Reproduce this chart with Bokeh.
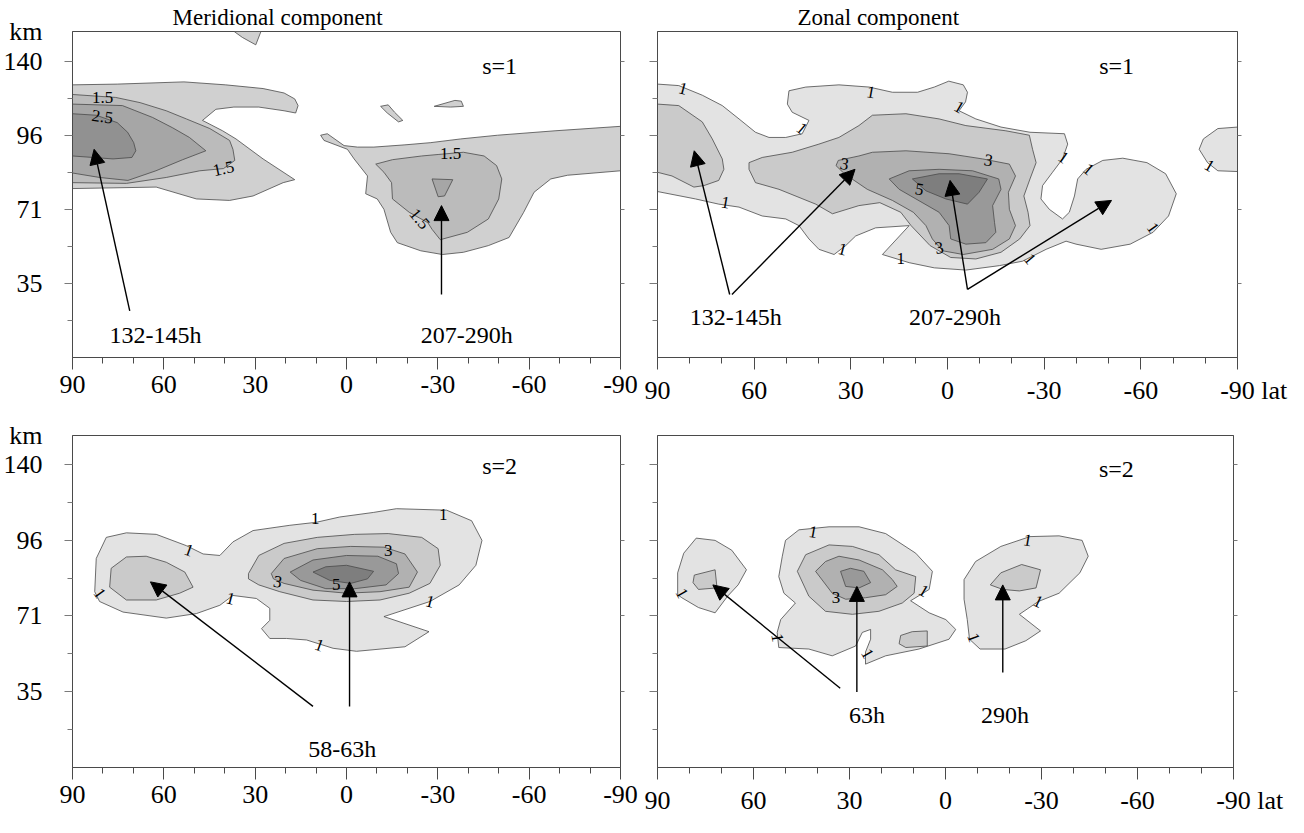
from bokeh.plotting import figure
from bokeh.models import Range1d, FixedTicker, LinearAxis, Arrow, NormalHead, ColumnDataSource
from bokeh.layouts import column, row
from bokeh.embed import file_html
from bokeh.resources import INLINE
from bokeh.core.properties import value

FONT = "'Liberation Serif', 'Times New Roman', serif"
NB = "\u00a0"

# ---------------- axes ----------------
LAT_TICKS = [90, 60, 30, 0, -30, -60, -90]
LAT_MINOR = [80, 70, 50, 40, 20, 10, -10, -20, -40, -50, -70, -80]
LAT_LABELS = ["90", "60", "30", "0", "-30", "-60", "-90"]
LEVEL_TICKS = [1, 2, 3, 4]
LEVEL_MINOR = [0.5, 1.5, 2.5, 3.5]
KM_LABELS = ["35", "71", "96", "140"]
KM_UNIT = "km"
LAT_UNIT = "lat"

# ---------------- Meridional component, s=1 (top left) ----------------
TL_A1_LAT = [90, 75.3, 53.4, 39.7, 27.4, 20.5, 17.0, 15.9, 16.7, 20.5, 28.8, 37.0, 42.9, 47.3, 40.7, 36.3, 27.4, 17.0, 20.8, 30.7, 38.4, 49.3, 62.5, 90]
TL_A1_Y = [3.68, 3.69, 3.72, 3.68, 3.63, 3.57, 3.49, 3.40, 3.30, 3.33, 3.38, 3.38, 3.35, 3.20, 3.06, 2.95, 2.68, 2.40, 2.36, 2.18, 2.12, 2.14, 2.30, 2.28]
TL_A15_LAT = [90, 75.8, 67.8, 59.2, 52.6, 44.9, 38.4, 37.3, 36.7, 40.4, 48.2, 59.2, 72.3, 90]
TL_A15_Y = [3.55, 3.51, 3.44, 3.33, 3.22, 3.09, 2.93, 2.81, 2.66, 2.55, 2.52, 2.43, 2.35, 2.36]
TL_A2_LAT = [90, 73.6, 63.7, 57.1, 51.6, 46.2, 53.8, 62.6, 71.8, 81.1, 90]
TL_A2_Y = [3.42, 3.40, 3.24, 3.10, 2.97, 2.79, 2.67, 2.52, 2.39, 2.43, 2.49]
TL_A25_LAT = [90, 82.2, 75.3, 71.9, 69.9, 69.2, 70.5, 76.7, 90]
TL_A25_Y = [3.29, 3.27, 3.17, 3.04, 2.90, 2.79, 2.70, 2.68, 2.72]
TL_B1_LAT = [8.5, 6.3, 0.8, -3.6, -9.0, -19.2, -27.7, -37.5, -49.6, -68.5, -90, -90, -72.6, -67.1, -61.6, -58.2, -53.4, -46.6, -38.4, -31.5, -24.4, -16.7, -14.5, -12.3, -10.1, -6.3, -6.9, -2.5, -0.3, 7.4]
TL_B1_Y = [3.00, 3.02, 2.86, 2.84, 2.84, 2.87, 2.90, 2.95, 3.00, 3.06, 3.12, 2.52, 2.46, 2.41, 2.23, 1.96, 1.62, 1.51, 1.42, 1.39, 1.44, 1.55, 1.69, 2.00, 2.14, 2.21, 2.45, 2.68, 2.81, 2.93]
TL_B15_LAT = [-9.6, -15.1, -24.7, -30.1, -38.4, -45.2, -49.3, -51.0, -50.0, -46.6, -39.7, -30.8, -28.1, -26.7, -20.6, -15.1, -14.8, -12.3]
TL_B15_Y = [2.61, 2.67, 2.72, 2.74, 2.77, 2.72, 2.59, 2.41, 2.14, 1.87, 1.69, 1.59, 1.73, 1.82, 1.96, 2.14, 2.36, 2.50]
TL_B2_LAT = [-28.1, -34.9, -32.2, -30.1]
TL_B2_Y = [2.41, 2.40, 2.18, 2.17]
TL_C1_LAT = [-11.2, -13.7, -15.8, -18.5, -17.1, -13.4]
TL_C1_Y = [3.39, 3.41, 3.31, 3.20, 3.18, 3.30]
TL_D1_LAT = [-28.8, -35.6, -37.7, -38.4, -34.2]
TL_D1_Y = [3.39, 3.47, 3.46, 3.39, 3.38]
TL_E1_LAT = [36.9, 28.1, 29.8, 34.2]
TL_E1_Y = [4.40, 4.40, 4.22, 4.32]
TL_LBL_LAT = [80.1, 80.2, 40.4, -34.2, -24.0]
TL_LBL_Y = [3.51, 3.25, 2.55, 2.76, 1.87]
TL_LBL_TEXT = ["1.5", "2.5", "1.5", "1.5", "1.5"]
TL_LBL_ANGLE = [0, -8, 12, 0, -50]

# ---------------- Zonal component, s=1 (top right) ----------------
TR_A1_LAT = [90, 83.4, 76.1, 69.9, 64.7, 59.6, 55.4, 50.2, 45.1, 43.0, 48.2, 49.7, 49.2, 44.0, 33.7, 24.3, 17.1, 9.3, 4.1, -0.4,
             -4.9, -6.2, -5.6, -3.6, -8.8, -16.6, -25.6, -36.3, -37.3, -35.7, -32.6, -29.5, -29.0, -31.6, -35.7, -37.8, -39.4, -40.4, -43.0, -48.2,
             -54.4, -61.9, -67.7, -71.0, -68.6, -63.8, -56.7, -47.7, -39.9, -36.8, -30.6, -23.3, -16.1, -5.7, 4.1, 11.9, 20.2, 11.9, 22.3, 28.5,
             31.6, 35.2, 39.9, 43.0, 46.1, 50.2, 57.5, 64.7, 71.0, 78.2, 90]
TR_A1_Y = [3.69, 3.67, 3.54, 3.40, 3.22, 3.04, 2.97, 2.97, 3.02, 3.20, 3.31, 3.42, 3.60, 3.65, 3.68, 3.65, 3.58, 3.58, 3.65, 3.73,
           3.68, 3.58, 3.45, 3.33, 3.22, 3.11, 3.04, 3.02, 2.88, 2.68, 2.50, 2.32, 2.14, 2.00, 1.87, 1.96, 2.18, 2.41, 2.54, 2.66,
           2.69, 2.63, 2.48, 2.21, 1.91, 1.69, 1.53, 1.46, 1.53, 1.57, 1.46, 1.30, 1.24, 1.18, 1.21, 1.28, 1.39, 1.78, 1.75, 1.64,
           1.51, 1.39, 1.46, 1.60, 1.78, 1.87, 1.91, 2.03, 2.07, 2.14, 2.24]
TR_A2L_LAT = [90, 83.4, 76.1, 73.0, 69.9, 69.4, 71.0, 75.6, 78.7, 85.5, 90]
TR_A2L_Y = [3.42, 3.40, 3.18, 2.95, 2.68, 2.54, 2.39, 2.32, 2.30, 2.45, 2.50]
TR_B1_LAT = [-90, -83.9, -79.4, -78.1, -80.7, -83.9, -90]
TR_B1_Y = [3.11, 3.09, 2.95, 2.81, 2.63, 2.52, 2.51]
TR_A2_LAT = [61.6, 59.6, 52.3, 40.9, 35.7, 27.5, 21.0, 14.5, 11.3, 5.4, -1.0, -8.8, -16.6, -22.4, -25.6, -25.0, -23.7, -25.6, -27.5, -26.4,
             -25.4, -18.1, -5.7, 2.6, 12.9, 23.3, 27.5, 33.7, 39.9, 48.2, 57.5, 61.6]
TR_A2_Y = [2.54, 2.36, 2.27, 2.07, 1.94, 2.05, 2.09, 1.96, 1.78, 1.51, 1.35, 1.33, 1.42, 1.60, 1.78, 1.96, 2.18, 2.41, 2.63, 2.81,
           3.00, 3.06, 3.13, 3.22, 3.29, 3.27, 3.13, 2.97, 2.88, 2.77, 2.70, 2.63]
TR_A3_LAT = [33.9, 27.5, 23.3, 12.9, -0.5, -10.9, -19.2, -21.1, -18.9, -19.2, -21.1, -19.2, -14.0, -4.9, 1.5, 4.7, 6.7, 10.6, 17.1, 24.9, 32.0, 34.6]
TR_A3_Y = [2.66, 2.72, 2.77, 2.79, 2.75, 2.68, 2.61, 2.45, 2.23, 2.00, 1.78, 1.60, 1.46, 1.39, 1.44, 1.60, 1.78, 1.96, 2.12, 2.27, 2.48, 2.59]
TR_A4_LAT = [18.1, 11.9, 2.6, -7.8, -15.9, -16.6, -14.0, -14.6, -15.0, -11.9, -5.7, -1.0, -0.5, 2.6, 9.8, 15.0]
TR_A4_Y = [2.41, 2.52, 2.54, 2.52, 2.41, 2.27, 2.05, 1.82, 1.69, 1.55, 1.53, 1.60, 1.78, 1.96, 2.14, 2.27]
TR_A5_LAT = [10.9, 2.6, -3.6, -12.4, -9.8, -6.2, 0.5, 6.7]
TR_A5_Y = [2.41, 2.48, 2.48, 2.41, 2.23, 2.07, 2.14, 2.25]
TR_LBL_LAT = [82.1, 23.8, -3.6, 45.2, 68.9, 32.6, 14.5, -36.0, -43.8, -63.8, -25.6, -81.3, 32.0, -12.7, 8.7, 2.6]
TR_LBL_Y = [3.63, 3.58, 3.38, 3.09, 2.09, 1.46, 1.33, 2.70, 2.54, 1.75, 1.33, 2.59, 2.61, 2.66, 2.27, 1.48]
TR_LBL_TEXT = ["1", "1", "1", "1", "1", "1", "1", "1", "1", "1", "1", "1", "3", "3", "5", "3"]
TR_LBL_ANGLE = [-15, -10, -30, -40, -10, -15, 0, -35, -40, -55, -50, -30, -10, -10, -10, 10]

# ---------------- Meridional component, s=2 (bottom left) ----------------
BL_A1_LAT = [82.7, 82.2, 78.9, 72.3, 62.5, 52.6, 47.1, 41.6, 37.3, 30.7, 18.6, 9.9, 2.2, -8.8, -16.4, -32.9, -41.1, -44.5, -42.5, -37.0,
             -27.4, -12.3, -27.1, -19.2, -3.3, 4.4, 13.1, 19.7, 25.2, 27.9, 25.2, 25.2, 29.6, 37.3, 41.6, 49.3, 59.2, 73.4, 81.1]
BL_A1_Y = [2.32, 2.76, 3.04, 3.10, 3.08, 2.93, 2.82, 2.80, 2.98, 3.13, 3.20, 3.24, 3.31, 3.37, 3.42, 3.40, 3.26, 3.00, 2.67, 2.41,
           2.19, 1.99, 1.79, 1.59, 1.53, 1.57, 1.68, 1.70, 1.70, 1.83, 1.94, 2.10, 2.23, 2.27, 2.14, 2.03, 1.97, 2.05, 2.19]
BL_A2L_LAT = [77.3, 72.3, 65.8, 59.2, 53.1, 50.4, 54.8, 62.5, 72.3, 77.8]
BL_A2L_Y = [2.63, 2.78, 2.79, 2.71, 2.58, 2.38, 2.30, 2.21, 2.21, 2.38]
BL_A2_LAT = [32.2, 28.8, 20.5, 9.6, -2.7, -13.7, -24.7, -30.1, -30.8, -27.4, -20.6, -11.0, 0.0, 11.0, 21.9, 28.8, 32.2]
BL_A2_Y = [2.56, 2.80, 2.96, 3.04, 3.08, 3.09, 3.04, 2.89, 2.67, 2.43, 2.30, 2.21, 2.19, 2.21, 2.32, 2.41, 2.49]
BL_A3_LAT = [24.7, 20.5, 9.6, -1.4, -12.3, -19.2, -23.3, -20.6, -11.0, 0.0, 11.0, 20.5, 24.0]
BL_A3_Y = [2.56, 2.76, 2.89, 2.92, 2.91, 2.82, 2.58, 2.38, 2.32, 2.30, 2.34, 2.43, 2.49]
BL_A4_LAT = [18.5, 11.0, 0.0, -10.3, -16.4, -17.1, -13.0, -2.7, 6.8, 15.1]
BL_A4_Y = [2.58, 2.74, 2.80, 2.79, 2.69, 2.56, 2.41, 2.36, 2.36, 2.47]
BL_A5_LAT = [11.0, 6.8, 0.0, -8.9, -6.9, -1.4, 5.5]
BL_A5_Y = [2.58, 2.65, 2.67, 2.59, 2.49, 2.43, 2.47]
BL_LBL_LAT = [10.3, -31.8, 51.8, 81.1, 38.1, -27.4, 8.9, 22.6, -13.7, 3.4]
BL_LBL_Y = [3.29, 3.34, 2.87, 2.30, 2.23, 2.19, 1.61, 2.45, 2.87, 2.41]
BL_LBL_TEXT = ["1", "1", "1", "1", "1", "1", "1", "3", "3", "5"]
BL_LBL_ANGLE = [0, 0, -20, -55, -15, -15, -20, -10, 0, 0]

# ---------------- Zonal component, s=2 (bottom right) ----------------
BR_A1_LAT = [83.7, 81.8, 77.9, 72.0, 66.8, 62.2, 64.8, 68.1, 72.0, 77.2, 82.4, 83.7]
BR_A1_Y = [2.57, 2.83, 3.03, 3.00, 2.87, 2.61, 2.41, 2.26, 2.04, 2.11, 2.24, 2.28]
BR_A2_LAT = [78.5, 72.0, 71.4, 77.2, 78.9]
BR_A2_Y = [2.54, 2.61, 2.37, 2.35, 2.44]
BR_B1_LAT = [50.0, 45.8, 36.4, 27.0, 18.7, 9.3, 4.1, 5.1, 10.9, 5.1, -0.1, -3.2, -1.1, 8.3, 18.7, 25.0, 25.0, 23.4, 23.4, 26.0,
             28.1, 35.4, 42.7, 52.1, 52.6, 51.5, 46.9, 50.5, 52.1, 51.0]
BR_B1_Y = [3.00, 3.14, 3.18, 3.18, 3.09, 2.83, 2.59, 2.35, 2.20, 2.04, 1.95, 1.82, 1.69, 1.56, 1.47, 1.36, 1.52, 1.69, 1.82, 1.78,
           1.60, 1.47, 1.56, 1.58, 1.78, 1.95, 2.17, 2.30, 2.52, 2.79]
BR_B2_LAT = [46.3, 43.7, 36.4, 29.1, 20.8, 15.6, 9.3, 9.8, 13.5, 20.8, 29.1, 37.5, 42.7]
BR_B2_Y = [2.59, 2.81, 2.94, 2.92, 2.81, 2.61, 2.52, 2.30, 2.17, 2.06, 2.02, 2.06, 2.26]
BR_B3_LAT = [40.6, 37.5, 33.3, 27.0, 19.7, 16.6, 15.1, 18.7, 25.0, 31.2, 35.4]
BR_B3_Y = [2.59, 2.72, 2.79, 2.74, 2.61, 2.48, 2.39, 2.28, 2.24, 2.22, 2.30]
BR_B4_LAT = [32.8, 29.7, 25.5, 23.4, 27.0, 31.2]
BR_B4_Y = [2.59, 2.63, 2.59, 2.44, 2.37, 2.39]
BR_B5_LAT = [14.0, 10.4, 5.7, 5.7, 12.4, 14.5]
BR_B5_Y = [1.74, 1.79, 1.80, 1.60, 1.58, 1.63]
BR_C1_LAT = [-5.8, -9.4, -17.3, -26.4, -35.5, -42.7, -44.6, -42.0, -35.5, -29.0, -23.1, -29.7, -25.1, -18.6, -10.8, -7.5, -6.8, -5.8]
BR_C1_Y = [2.48, 2.72, 2.92, 3.05, 3.06, 3.00, 2.79, 2.57, 2.30, 2.19, 2.02, 1.80, 1.67, 1.56, 1.56, 1.69, 1.95, 2.22]
BR_C2_LAT = [-14.0, -17.3, -23.8, -29.7, -28.3, -23.1, -17.9]
BR_C2_Y = [2.41, 2.57, 2.68, 2.61, 2.37, 2.33, 2.35]
BR_LBL_LAT = [41.4, -25.7, 82.4, 52.5, 6.8, -29.0, 24.4, -8.8, 34.2]
BR_LBL_Y = [3.11, 3.00, 2.30, 1.71, 2.33, 2.19, 1.50, 1.71, 2.24]
BR_LBL_TEXT = ["1", "1", "1", "1", "1", "1", "1", "1", "3"]
BR_LBL_ANGLE = [-10, -10, -60, -80, -30, -25, -60, -70, 0]

# ---------------- annotations (arrows: start lat, start level, end lat, end level) ----------------
TL_ARROWS = [(71.2, 0.63, 82.9, 2.81), (-31.2, 0.85, -31.2, 2.05)]
TR_ARROWS = [(67.6, 0.85, 78.6, 2.79), (66.9, 0.85, 28.7, 2.54), (-6.2, 0.92, -0.8, 2.39), (-6.2, 0.92, -50.9, 2.12)]
BL_ARROWS = [(11.0, 0.80, 64.4, 2.45), (-1.0, 0.80, -1.0, 2.45)]
BR_ARROWS = [(32.9, 1.04, 72.7, 2.41), (27.7, 0.99, 27.7, 2.39), (-17.9, 1.25, -17.9, 2.41)]
TL_NOTES = [("132-145h", 62.7, 0.31), ("207-290h", -39.5, 0.31), ("s=1", -50.3, 3.94)]
TR_NOTES = [("132-145h", 65.7, 0.54), ("207-290h", -2.3, 0.54), ("s=1", -52.5, 3.94)]
BL_NOTES = [("58-63h", 1.4, 0.23), ("s=2", -50.3, 3.99)]
BR_NOTES = [("63h", 24.5, 0.69), ("290h", -18.6, 0.69), ("s=2", -53.4, 3.94)]

PAL5 = ["#e3e3e3", "#cacaca", "#b1b1b1", "#999999", "#7e7e7e"]
PAL_TL = ["#d0d0d0", "#bbbbbb", "#a6a6a6", "#919191"]

FRAME_C = "#4a4a4a"
TICK_C = "#7a7a7a"


def make_panel(fw, fh, y0, y1, left, right, top, bottom, ylabels, xstand, title=None, title_offset=0, unit_right=False):
    p = figure(width=left + fw + right, height=top + fh + bottom,
               x_range=Range1d(90, -90), y_range=Range1d(y0, y1),
               output_backend="svg", toolbar_location=None,
               min_border_left=left, min_border_right=right,
               min_border_top=top, min_border_bottom=bottom)
    p.xgrid.grid_line_color = None
    p.ygrid.grid_line_color = None
    p.outline_line_color = FRAME_C
    p.background_fill_color = "white"
    p.border_fill_color = "white"
    if title:
        p.title.text = title
        p.title.align = "left"
        p.title.offset = title_offset
        p.title.text_font = FONT
        p.title.text_font_size = "23px"
        p.title.text_font_style = "normal"
        p.title.text_color = "black"
        p.title.standoff = 3
    # bottom axis
    xa = p.xaxis[0]
    xa.ticker = FixedTicker(ticks=LAT_TICKS, minor_ticks=LAT_MINOR)
    labels = dict(zip(LAT_TICKS, LAT_LABELS))
    if unit_right:
        labels[-90] = NB * 5 + "-90" + NB + LAT_UNIT
    xa.major_label_overrides = labels
    xa.major_tick_out = 12
    xa.major_tick_in = 0
    xa.minor_tick_out = 6
    xa.minor_tick_in = 0
    xa.major_label_standoff = xstand
    xa.major_label_text_font = FONT
    xa.major_label_text_font_size = "26px"
    xa.major_label_text_color = "black"
    xa.axis_line_color = FRAME_C
    xa.major_tick_line_color = FRAME_C
    xa.minor_tick_line_color = FRAME_C
    # left axis: tick marks only (next to the frame)
    ya = p.yaxis[0]
    ya.ticker = FixedTicker(ticks=LEVEL_TICKS, minor_ticks=LEVEL_MINOR)
    ya.major_tick_out = 8
    ya.major_tick_in = 0
    ya.minor_tick_out = 5
    ya.minor_tick_in = 0
    ya.axis_line_color = FRAME_C
    ya.major_tick_line_color = TICK_C
    ya.minor_tick_line_color = TICK_C
    ya.major_label_overrides = {t: "" for t in LEVEL_TICKS}
    ya.major_label_standoff = 0
    ya.major_label_text_font_size = "1px"
    if ylabels:
        top_tick = round(y1 - 0.001, 3)
        lab = {t: s for t, s in zip(LEVEL_TICKS, KM_LABELS)}
        lab[top_tick] = KM_UNIT
        la = LinearAxis(ticker=FixedTicker(ticks=LEVEL_TICKS + [top_tick], minor_ticks=[]),
                        major_label_overrides=lab, major_tick_out=0, major_tick_in=0,
                        minor_tick_out=0, minor_tick_in=0, major_label_standoff=22,
                        axis_line_color=None, major_tick_line_color=None, minor_tick_line_color=None,
                        major_label_text_font=FONT, major_label_text_font_size="26px",
                        major_label_text_color="black")
        p.add_layout(la, "left")
    ra = LinearAxis(ticker=FixedTicker(ticks=LEVEL_TICKS, minor_ticks=[]),
                    major_label_overrides={t: "" for t in LEVEL_TICKS},
                    major_tick_out=4, major_tick_in=0, minor_tick_out=0, minor_tick_in=0,
                    major_label_standoff=0, major_label_text_font_size="1px",
                    axis_line_color=FRAME_C, major_tick_line_color=TICK_C)
    p.add_layout(ra, "right")
    return p


def add_patches(p, polys, colors):
    src = ColumnDataSource(dict(xs=[a for a, b, c in polys], ys=[b for a, b, c in polys],
                                fc=[colors[c] for a, b, c in polys]))
    p.patches("xs", "ys", source=src, fill_color="fc", line_color="#4a4a4a", line_width=0.8)


def add_labels(p, lat, lev, text, ang, size="17px"):
    src = ColumnDataSource(dict(x=lat, y=lev, t=text, a=ang))
    p.text("x", "y", text="t", angle="a", angle_units="deg", source=src, text_font=value(FONT),
           text_font_size=size, text_align="center", text_baseline="middle", text_color="black")


def add_arrows(p, arrows):
    for xs, ys, xe, ye in arrows:
        p.add_layout(Arrow(end=NormalHead(size=15, fill_color="black", line_color="black", line_width=1),
                           x_start=xs, y_start=ys, x_end=xe, y_end=ye, line_width=1.4, line_color="black"))


def add_notes(p, notes, size="24px"):
    add_labels(p, [n[1] for n in notes], [n[2] for n in notes], [n[0] for n in notes], [0] * len(notes), size)


# ---- top left ----
p1 = make_panel(548, 326, 0, 4.4, 72, 20, 31, 52, True, 6, title="Meridional component", title_offset=100)
add_patches(p1, [(TL_A1_LAT, TL_A1_Y, 0), (TL_B1_LAT, TL_B1_Y, 0), (TL_C1_LAT, TL_C1_Y, 0),
                 (TL_D1_LAT, TL_D1_Y, 0), (TL_E1_LAT, TL_E1_Y, 0),
                 (TL_A15_LAT, TL_A15_Y, 1), (TL_B15_LAT, TL_B15_Y, 1),
                 (TL_A2_LAT, TL_A2_Y, 2), (TL_B2_LAT, TL_B2_Y, 2),
                 (TL_A25_LAT, TL_A25_Y, 3)], PAL_TL)
add_labels(p1, TL_LBL_LAT, TL_LBL_Y, TL_LBL_TEXT, TL_LBL_ANGLE)
add_arrows(p1, TL_ARROWS)
add_notes(p1, TL_NOTES)

# ---- top right ----
p2 = make_panel(580, 327, 0, 4.4, 17, 51, 31, 51, False, 6, title="Zonal component", title_offset=140, unit_right=True)
add_patches(p2, [(TR_A1_LAT, TR_A1_Y, 0), (TR_B1_LAT, TR_B1_Y, 0),
                 (TR_A2L_LAT, TR_A2L_Y, 1), (TR_A2_LAT, TR_A2_Y, 1),
                 (TR_A3_LAT, TR_A3_Y, 2), (TR_A4_LAT, TR_A4_Y, 3), (TR_A5_LAT, TR_A5_Y, 4)], PAL5)
add_labels(p2, TR_LBL_LAT, TR_LBL_Y, TR_LBL_TEXT, TR_LBL_ANGLE)
add_arrows(p2, TR_ARROWS)
add_notes(p2, TR_NOTES)

# ---- bottom left ----
p3 = make_panel(548, 334, -0.01, 4.39, 72, 20, 26, 48, True, 6)
add_patches(p3, [(BL_A1_LAT, BL_A1_Y, 0), (BL_A2L_LAT, BL_A2L_Y, 1), (BL_A2_LAT, BL_A2_Y, 1),
                 (BL_A3_LAT, BL_A3_Y, 2), (BL_A4_LAT, BL_A4_Y, 3), (BL_A5_LAT, BL_A5_Y, 4)], PAL5)
add_labels(p3, BL_LBL_LAT, BL_LBL_Y, BL_LBL_TEXT, BL_LBL_ANGLE)
add_arrows(p3, BL_ARROWS)
add_notes(p3, BL_NOTES)

# ---- bottom right ----
p4 = make_panel(576, 336, -0.01, 4.39, 17, 55, 24, 48, False, 6, unit_right=True)
add_patches(p4, [(BR_A1_LAT, BR_A1_Y, 0), (BR_B1_LAT, BR_B1_Y, 0), (BR_C1_LAT, BR_C1_Y, 0),
                 (BR_A2_LAT, BR_A2_Y, 1), (BR_B2_LAT, BR_B2_Y, 1), (BR_B5_LAT, BR_B5_Y, 1), (BR_C2_LAT, BR_C2_Y, 1),
                 (BR_B3_LAT, BR_B3_Y, 2), (BR_B4_LAT, BR_B4_Y, 3)], PAL5)
add_labels(p4, BR_LBL_LAT, BR_LBL_Y, BR_LBL_TEXT, BR_LBL_ANGLE)
add_arrows(p4, BR_ARROWS)
add_notes(p4, BR_NOTES)

layout = column(row(p1, p2, spacing=0), row(p3, p4, spacing=0), spacing=0)
open("out.html", "w").write(file_html(layout, INLINE))
